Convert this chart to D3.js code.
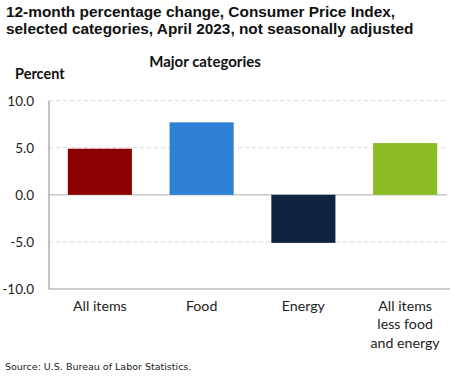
<!DOCTYPE html>
<html><head><meta charset="utf-8">
<script src="https://cdn.jsdelivr.net/npm/d3@7"></script>
<style>
body{margin:0;background:#fff;}
svg{display:block;}
</style></head>
<body>
<script>
const categories = ["All items", "Food", "Energy", "All items less food and energy"];
const categoryLines = [["All items"], ["Food"], ["Energy"], ["All items", "less food", "and energy"]];
const values = [4.9, 7.7, -5.1, 5.5];
const colors = ["#8b0000", "#2e7fd6", "#0e2440", "#8cbb26"];
const tickValues = [-10, -5, 0, 5, 10];
const tickLabels = ["-10.0", "-5.0", "0.0", "5.0", "10.0"];
const titleLines = ["12-month percentage change, Consumer Price Index,", "selected categories, April 2023, not seasonally adjusted"];

(function () {
const W = 450, H = 376;
const svg = d3.select("body").append("svg").attr("width", W).attr("height", H);

const mLeft = 49, mRight = 456, mTop = 100.7, mBottom = 289;
const x = d3.scaleBand().domain(categories).range([mLeft, mRight]).paddingInner(0.37).paddingOuter(0.185);
const y = d3.scaleLinear().domain([-10, 10]).range([mBottom, mTop]);

svg.append("g").selectAll("text").data(titleLines).join("text")
  .attr("x", 6).attr("y", (d, i) => 17 + i * 16.5)
  .attr("font-family", "Liberation Sans, Arial, sans-serif")
  .attr("font-weight", "bold").attr("font-size", 15.4).attr("fill", "#111")
  .text(d => d);

svg.append("text").attr("x", 205).attr("y", 67).attr("text-anchor", "middle")
  .attr("font-family", "Lato, Open Sans, sans-serif").attr("font-weight", "bold")
  .attr("font-size", 15).attr("fill", "#111").text("Major categories");

svg.append("text").attr("x", 15).attr("y", 79)
  .attr("font-family", "Lato, Open Sans, sans-serif").attr("font-weight", "bold")
  .attr("font-size", 14.5).attr("fill", "#111").text("Percent");

const plotRight = 447;
svg.append("g").selectAll("line").data(tickValues.filter(v => v !== -10)).join("line")
  .attr("x1", mLeft).attr("x2", plotRight)
  .attr("y1", d => y(d)).attr("y2", d => y(d))
  .attr("stroke", d => d === 0 ? "#c8c8c8" : "#d8d8d8")
  .attr("stroke-width", d => d === 0 ? 1.5 : 1)
  .attr("stroke-dasharray", d => d === 0 ? null : "4,3");

svg.append("line").attr("x1", mLeft).attr("x2", mLeft).attr("y1", mTop).attr("y2", mBottom)
  .attr("stroke", "#999").attr("stroke-width", 1.2);
svg.append("line").attr("x1", mLeft).attr("x2", W).attr("y1", mBottom).attr("y2", mBottom)
  .attr("stroke", "#999").attr("stroke-width", 1.2);

const yAxis = d3.axisLeft(y).tickValues(tickValues).tickSize(0).tickPadding(0)
  .tickFormat((d, i) => tickLabels[i]);
const ya = svg.append("g").attr("transform", `translate(${mLeft - 15},0)`).call(yAxis);
ya.select(".domain").remove();
ya.selectAll("text").attr("font-family", "Lato, Open Sans, sans-serif").attr("font-size", 13.5).attr("fill", "#222");

svg.append("g").selectAll("rect").data(values).join("rect")
  .attr("x", (d, i) => x(categories[i]))
  .attr("width", x.bandwidth())
  .attr("y", d => y(Math.max(0, d)))
  .attr("height", d => Math.abs(y(d) - y(0)))
  .attr("fill", (d, i) => colors[i]);

const xl = svg.append("g");
categories.forEach((c, i) => {
  const t = xl.append("text").attr("text-anchor", "middle")
    .attr("font-family", "Lato, Open Sans, sans-serif").attr("font-size", 14.2).attr("fill", "#222");
  categoryLines[i].forEach((ln, j) => {
    t.append("tspan").attr("x", x(c) + x.bandwidth() / 2).attr("y", 311 + j * 18.3).text(ln);
  });
});

svg.append("text").attr("x", 5).attr("y", 370)
  .attr("font-family", "DejaVu Sans, Verdana, sans-serif").attr("font-size", 9.5).attr("fill", "#222")
  .text("Source: U.S. Bureau of Labor Statistics.");
})();
</script>
</body></html>
